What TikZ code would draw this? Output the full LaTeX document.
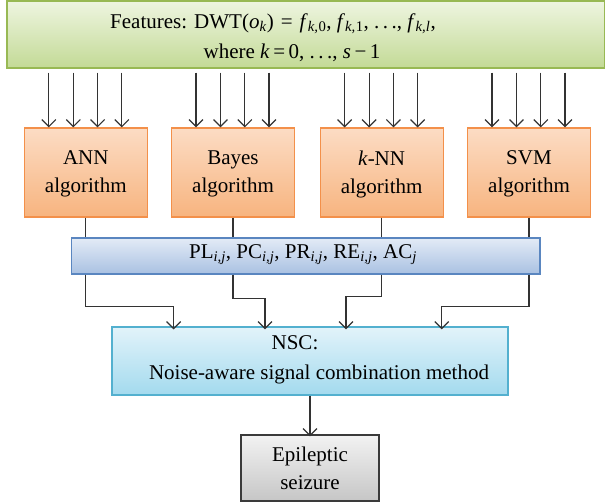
\documentclass[tikz,border=0pt]{standalone}
\usepackage{fontspec}
\setmainfont{Liberation Serif}
\usetikzlibrary{arrows.meta}
\definecolor{gtop}{HTML}{EEF5E0}
\definecolor{gbot}{HTML}{C3DA96}
\definecolor{gbord}{HTML}{98B954}
\definecolor{otop}{HTML}{FCDCC4}
\definecolor{obot}{HTML}{F7B47F}
\definecolor{obord}{HTML}{F3904A}
\definecolor{btop}{HTML}{E3EBF6}
\definecolor{bbot}{HTML}{A9C1E2}
\definecolor{bbord}{HTML}{5A86C0}
\definecolor{ctop}{HTML}{E2F3FA}
\definecolor{cbot}{HTML}{A3DAEE}
\definecolor{cbord}{HTML}{53B0CF}
\definecolor{etop}{HTML}{F2F2F2}
\definecolor{ebot}{HTML}{C6C6C6}
\definecolor{ebord}{HTML}{3A3A3A}
\definecolor{lnc}{HTML}{333333}
\newcommand{\iv}[1]{\textit{#1}}
\newcommand{\sbs}[1]{\textsubscript{\textit{#1}}}
\tikzset{
  txt/.style={font=\fontsize{21}{26}\selectfont, text=black, inner sep=0pt, align=center},
  algbox/.style={draw=obord, line width=1.2pt, top color=otop, bottom color=obot,
    minimum width=123pt, minimum height=89pt, inner sep=0pt},
  arr/.style={draw=lnc, line width=1.2pt, -{Straight Barb[length=7pt,width=14pt,line width=1.2pt]}},
  ln/.style={draw=lnc, line width=1.2pt},
}
\begin{document}
\begin{tikzpicture}[x=1pt,y=-1pt]
\useasboundingbox (0,0) rectangle (605,502);
% top features box
\node[draw=gbord, line width=1.2pt, top color=gtop, bottom color=gbot,
  minimum width=598pt, minimum height=67pt, inner sep=0pt] (feat) at (306,34.5) {};
\node[txt] (f1) at (273,24) {Features: DWT(\iv{o}\sbs{k})\,\,=\,\,\iv{f}\sbs{k,}\textsubscript{0}, \iv{f}\sbs{k,}\textsubscript{1}, .\,.\,., \iv{f}\sbs{k,l},};
\node[txt] (f2) at (292,53) {where \iv{k}\,=\,0, .\,.\,., \iv{s}\,−\,1};
% algorithm boxes
\node[algbox] (ann) at (85.8,172.5) {};
\node[algbox] (bay) at (233,172.5) {};
\node[algbox] (knn) at (381.6,172.5) {};
\node[algbox] (svm) at (529,172.5) {};
\node[txt] (annt) at (85.8,174) {ANN\\[2pt]algorithm};
\node[txt] (bayt) at (233,174) {Bayes\\[2pt]algorithm};
\node[txt] (knnt) at (381.6,174) {\iv{k}-NN\\[2pt]algorithm};
\node[txt] (svmt) at (529,174) {SVM\\[2pt]algorithm};
% arrows from features
\foreach \b in {ann,bay,knn,svm}{
  \foreach \d in {-37,-12.5,11.8,36}{
    \draw[arr] ([xshift=\d pt]\b.north |- feat.south) ++(0,4) -- ([xshift=\d pt]\b.north);
  }
}
% measure box
\node[draw=bbord, line width=1.2pt, top color=btop, bottom color=bbot,
  minimum width=468.6pt, minimum height=36pt, inner sep=0pt] (pl) at (305.7,256) {};
\node[txt] (plt) at (303,255) {PL\sbs{i,j}, PC\sbs{i,j}, PR\sbs{i,j}, RE\sbs{i,j}, AC\sbs{j}};
\foreach \b in {ann,bay,knn,svm}{
  \draw[ln] (\b.south) -- (\b.south |- pl.north);
}
% NSC box
\node[draw=cbord, line width=1.2pt, top color=ctop, bottom color=cbot,
  minimum width=396pt, minimum height=68pt, inner sep=0pt] (nsc) at (310,361) {};
\node[txt] (n1) at (295,343) {NSC:};
\node[txt] (n2) at (319,374) {Noise-aware signal combination method};
\draw[arr] (ann.south |- pl.south) -- ++(0,32) -| ([xshift=-136.4pt,yshift=-3pt]nsc.north);
\draw[arr] (bay.south |- pl.south) -- ++(0,24) -| ([xshift=-45pt,yshift=-3pt]nsc.north);
\draw[arr] (knn.south |- pl.south) -- ++(0,22) -| ([xshift=36pt,yshift=-3pt]nsc.north);
\draw[arr] (svm.south |- pl.south) -- ++(0,32) -| ([xshift=131.7pt,yshift=-3pt]nsc.north);
% outcome box
\node[draw=ebord, line width=1.2pt, top color=etop, bottom color=ebot,
  minimum width=138pt, minimum height=66pt, inner sep=0pt, txt] (epi) at (310,468) {Epileptic\\[2pt]seizure};
\draw[arr] (nsc.south) -- ([yshift=-2pt]epi.north);
\end{tikzpicture}
\end{document}
